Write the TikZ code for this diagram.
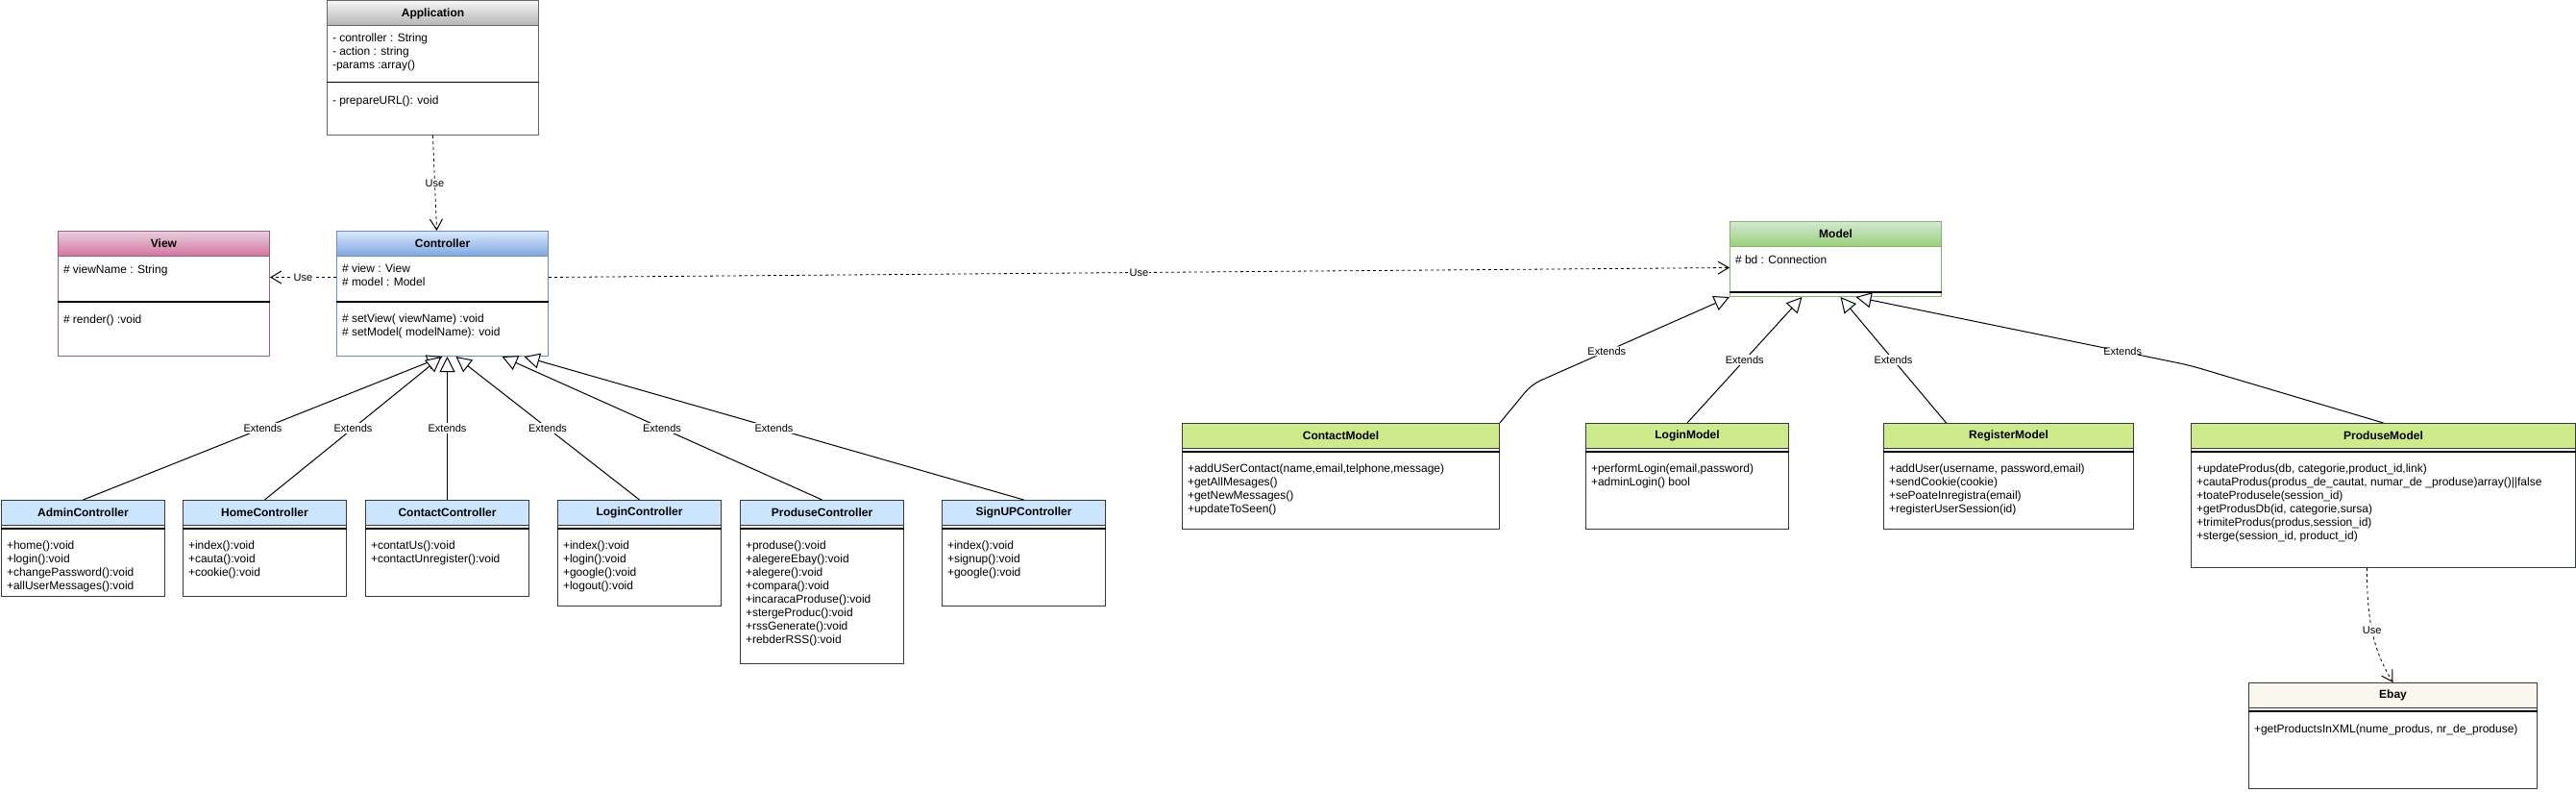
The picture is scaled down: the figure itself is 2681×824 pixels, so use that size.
\documentclass[tikz,border=0pt]{standalone}
\usepackage{fontspec}
\setmainfont{Liberation Sans}
\usetikzlibrary{arrows.meta}
\definecolor{appline}{HTML}{666666}
\definecolor{apptop}{HTML}{F5F5F5}
\definecolor{appbot}{HTML}{B3B3B3}
\definecolor{viewline}{HTML}{996185}
\definecolor{viewtop}{HTML}{E6D0DE}
\definecolor{viewbot}{HTML}{D5739D}
\definecolor{ctrlline}{HTML}{6C8EBF}
\definecolor{ctrltop}{HTML}{DAE8FC}
\definecolor{ctrlbot}{HTML}{7EA6E0}
\definecolor{modelline}{HTML}{82B366}
\definecolor{modeltop}{HTML}{D5E8D4}
\definecolor{modelbot}{HTML}{97D077}
\definecolor{darkline}{HTML}{36393D}
\definecolor{subctrlfill}{HTML}{CCE5FF}
\definecolor{submodelfill}{HTML}{CDEB8B}
\definecolor{ebayfill}{HTML}{F9F7ED}
\tikzset{
  class box/.style={draw, fill=white, rectangle, anchor=north west, inner sep=0pt},
  class title/.style={draw, rectangle, anchor=north west, inner sep=0pt, minimum height=26pt,
    font=\fontsize{12}{14}\selectfont\bfseries},
  members/.style={anchor=north west, align=left, inner sep=0pt,
    font=\fontsize{12}{14}\selectfont, execute at begin node=\strut},
  sep line/.style={black, line width=1.2pt},
  app class/.style={draw=appline},
  app class head/.style={top color=apptop, bottom color=appbot},
  view class/.style={draw=viewline},
  view class head/.style={top color=viewtop, bottom color=viewbot},
  ctrl class/.style={draw=ctrlline},
  ctrl class head/.style={top color=ctrltop, bottom color=ctrlbot},
  model class/.style={draw=modelline},
  model class head/.style={top color=modeltop, bottom color=modelbot},
  subctrl class/.style={draw=darkline},
  subctrl class head/.style={fill=subctrlfill},
  submodel class/.style={draw=darkline},
  submodel class head/.style={fill=submodelfill},
  ebay class/.style={draw=darkline},
  ebay class head/.style={fill=ebayfill},
  extends/.style={-{Triangle[length=16pt,width=16pt,fill=white]}},
  depends/.style={line width=0.8pt, dash pattern=on 3pt off 3pt,
    -{Straight Barb[length=11pt,width=13pt,line width=1pt]}},
  rel label/.style={fill=white, inner sep=1pt, font=\fontsize{11}{13}\selectfont},
}
% name, colours, corner, width, height, title, separator, attributes, operations
\newcommand{\umlclass}[9]{%
  \node[class box,#2,minimum width=#4pt,minimum height=#5pt] (#1) at #3 {};
  \node[class title,#2,#2 head,minimum width=#4pt] (#1-title) at (#1.north west) {#6};
  \draw[sep line] ([yshift=-#7pt]#1.north west) -- ([yshift=-#7pt]#1.north east);
  \node[members] (#1-attr) at ([xshift=5.5pt,yshift=-34pt]#1.north west) {#8};
  \node[members] (#1-ops) at ([xshift=5.5pt,yshift=-#7pt-12.5pt]#1.north west) {#9};
}

\begin{document}
\begin{tikzpicture}[x=1pt,y=-1pt,line width=1pt]
  \useasboundingbox (0,0) rectangle (2681,824);

  \umlclass{app}{app class}{(340,0.5)}{220}{139.5}{Application}{85}
    {- controller : String\\- action : string\\-params :array()}{- prepareURL(): void}
  \umlclass{view}{view class}{(60,240)}{220}{130}{View}{74}
    {\# viewName : String}{\# render() :void}
  \umlclass{ctrl}{ctrl class}{(350,240)}{220}{130}{Controller}{74}
    {\# view : View\\\# model : Model}{\# setView( viewName) :void\\\# setModel( modelName): void}
  \umlclass{model}{model class}{(1800,230)}{220}{78}{Model}{74}
    {\# bd : Connection}{}

  \umlclass{admin}{subctrl class}{(1,520)}{170}{100}{AdminController}{30}
    {}{+home():void\\+login():void\\+changePassword():void\\+allUserMessages():void}
  \umlclass{home}{subctrl class}{(190,520)}{170}{100}{HomeController}{30}
    {}{+index():void\\+cauta():void\\+cookie():void}
  \umlclass{contact}{subctrl class}{(380,520)}{170}{100}{ContactController}{30}
    {}{+contatUs():void\\+contactUnregister():void}
  \umlclass{login}{subctrl class}{(580,520)}{170}{110}{LoginController}{30}
    {}{+index():void\\+login():void\\+google():void\\+logout():void}
  \umlclass{produse}{subctrl class}{(770,520)}{170}{170}{ProduseController}{30}
    {}{+produse():void\\+alegereEbay():void\\+alegere():void\\+compara():void\\+incaracaProduse():void\\+stergeProduc():void\\+rssGenerate():void\\+rebderRSS():void}
  \umlclass{signup}{subctrl class}{(980,520)}{170}{110}{SignUPController}{30}
    {}{+index():void\\+signup():void\\+google():void}

  \umlclass{cmodel}{submodel class}{(1230,440)}{330}{110}{ContactModel}{30}
    {}{+addUSerContact(name,email,telphone,message)\\+getAllMesages()\\+getNewMessages()\\+updateToSeen()}
  \umlclass{lmodel}{submodel class}{(1650,440)}{211}{110}{LoginModel}{30}
    {}{+performLogin(email,password)\\+adminLogin() bool}
  \umlclass{rmodel}{submodel class}{(1960,440)}{260}{110}{RegisterModel}{30}
    {}{+addUser(username, password,email)\\+sendCookie(cookie)\\+sePoateInregistra(email)\\+registerUserSession(id)}
  \umlclass{pmodel}{submodel class}{(2280,440)}{400}{150}{ProduseModel}{30}
    {}{+updateProdus(db, categorie,product\_id,link)\\+cautaProdus(produs\_de\_cautat, numar\_de \_produse)array()||false\\+toateProdusele(session\_id)\\+getProdusDb(id, categorie,sursa)\\+trimiteProdus(produs,session\_id)\\+sterge(session\_id, product\_id)}
  \umlclass{ebay}{ebay class}{(2340,710)}{300}{110}{Ebay}{30}
    {}{+getProductsInXML(nume\_produs, nr\_de\_produse)}

  \draw[depends] (app.south) -- node[rel label]{Use} ([xshift=-6pt]ctrl.north);
  \draw[depends] ([yshift=17pt]ctrl.west) -- node[rel label]{Use} ([yshift=17pt]view.east);
  \draw[depends] ([yshift=17pt]ctrl.east) -- node[rel label]{Use} ([yshift=-9pt]model.west);
  \draw[depends] ([xshift=-17pt]pmodel.south) .. controls (2463,650) and (2472,680)
    .. node[rel label,pos=0.45]{Use} (ebay.north);

  \draw[extends] (admin.north) -- node[rel label]{Extends} (ctrl.south);
  \draw[extends] (home.north) -- node[rel label]{Extends} ([xshift=-1pt]ctrl.south);
  \draw[extends] (contact.north) -- node[rel label]{Extends} ([xshift=5pt]ctrl.south);
  \draw[extends] (login.north) -- node[rel label]{Extends} ([xshift=14pt]ctrl.south);
  \draw[extends] (produse.north) -- node[rel label]{Extends} ([xshift=62pt]ctrl.south);
  \draw[extends] (signup.north) -- node[rel label]{Extends} ([xshift=85pt]ctrl.south);

  \draw[extends,rounded corners=10pt] (cmodel.north east) -- ++(33,-40)
    -- node[rel label,pos=0.38]{Extends} (model.south west);
  \draw[extends] (lmodel.north) -- node[rel label]{Extends} ([xshift=-35pt]model.south);
  \draw[extends] ([xshift=-65pt]rmodel.north) -- node[rel label]{Extends} ([xshift=5pt]model.south);
  \draw[extends,rounded corners=10pt] (pmodel.north) -- ++(-202,-60)
    -- node[rel label,pos=0.2]{Extends} ([xshift=21pt]model.south);
\end{tikzpicture}
\end{document}
